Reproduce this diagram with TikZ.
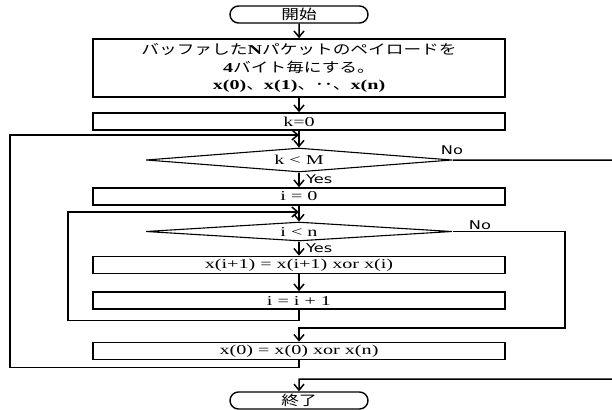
\documentclass[tikz,border=0pt]{standalone}
\usepackage{fontspec}
\setmainfont{Liberation Serif}[FakeStretch=1.48]
\newfontfamily\jpfont{Noto Sans CJK JP}[FakeStretch=1.3]
\newfontfamily\ynfont{DejaVu Sans}[FakeStretch=1.35]
\usetikzlibrary{arrows.meta,shapes.geometric,shapes.misc}
\newcommand\J[1]{{\jpfont #1}}
\begin{document}
\begin{tikzpicture}[x=1pt,y=-1pt,
  every node/.style={font=\fontsize{13.6}{17.5}\selectfont},
  box/.style={draw, line width=1.7pt, minimum width=412pt, minimum height=17pt, inner sep=0pt},
  dec/.style={diamond, draw, line width=1.1pt, aspect=12, minimum width=306pt, minimum height=24pt, inner sep=0pt},
  term/.style={rounded rectangle, draw, line width=1.4pt, minimum width=138pt, minimum height=17pt, inner sep=0pt},
  conn/.style={line width=1.5pt},
  arr/.style={conn, -{Straight Barb[length=6pt,width=10pt,line width=1.5pt]}},
  yn/.style={font=\fontsize{12}{14}\selectfont\ynfont, inner sep=0pt}]
\useasboundingbox (0,0) rectangle (612,409);
\clip (0,0) rectangle (612,409);
% nodes
\node[term] (start) at (299,14.5) {\J{開始}};
\node[box, minimum height=58pt, align=center] (b1) at (299,68)
  {\J{バッファした}\textbf{N}\J{パケットのペイロードを}\\
   \textbf{4}\J{バイト毎にする。}\\
   \textbf{x(0)}\J{、}\textbf{x(1)}\J{、･･、}\textbf{x(n)}};
\node[box] (b2) at (299,121.5) {k=0};
\node[dec] (d1) at (299,160) {k < M};
\node[box] (b3) at (299,196.5) {i = 0};
\node[dec, minimum height=19pt] (d2) at (299,231.5) {i < n};
\node[box] (b4) at (299,265) {x(i+1) = x(i+1) xor x(i)};
\node[box] (b5) at (299,300.5) {i = i + 1};
\node[box] (b6) at (299,351) {x(0) = x(0) xor x(n)};
\node[term] (end) at (299,400.5) {\J{終了}};
% labels
\node[yn, anchor=west] (y1) at (306,179) {Yes};
\node[yn, anchor=west] (y2) at (306,248) {Yes};
\node[yn] (n1) at (452,150) {No};
\node[yn] (n2) at (480,225) {No};
% coordinates
\coordinate (oj) at (299,135);
\coordinate (ol) at (10,135);
\coordinate (obl) at (10,367.5);
\coordinate (ob) at (299,367.5);
\coordinate (ij) at (299,212);
\coordinate (il) at (68,212);
\coordinate (ibl) at (68,320.5);
\coordinate (ib) at (299,320.5);
\coordinate (nr1) at (616,160);
\coordinate (nbr1) at (616,379);
\coordinate (nb1) at (299,379);
\coordinate (nr2) at (565,231.5);
\coordinate (nbr2) at (565,328);
\coordinate (nb2) at (299,328);
% connectors
\draw[arr] (start) -- (b1);
\draw[arr] (b1) -- (b2);
\draw[arr] (b2) -- (d1);
\draw[arr] (b6.south) -- (ob) -- (obl) -- (ol) -- (oj);
\draw[arr] (d1) -- (b3);
\draw[arr] (d1.east) -- (nr1) -- (nbr1) -- (nb1) -- (end);
\draw[arr] (b3) -- (d2);
\draw[arr] (b5.south) -- (ib) -- (ibl) -- (il) -- (ij);
\draw[arr] (d2) -- (b4);
\draw[arr] (b4) -- (b5);
\draw[arr] (d2.east) -- (nr2) -- (nbr2) -- (nb2) -- (b6);
\end{tikzpicture}
\end{document}
